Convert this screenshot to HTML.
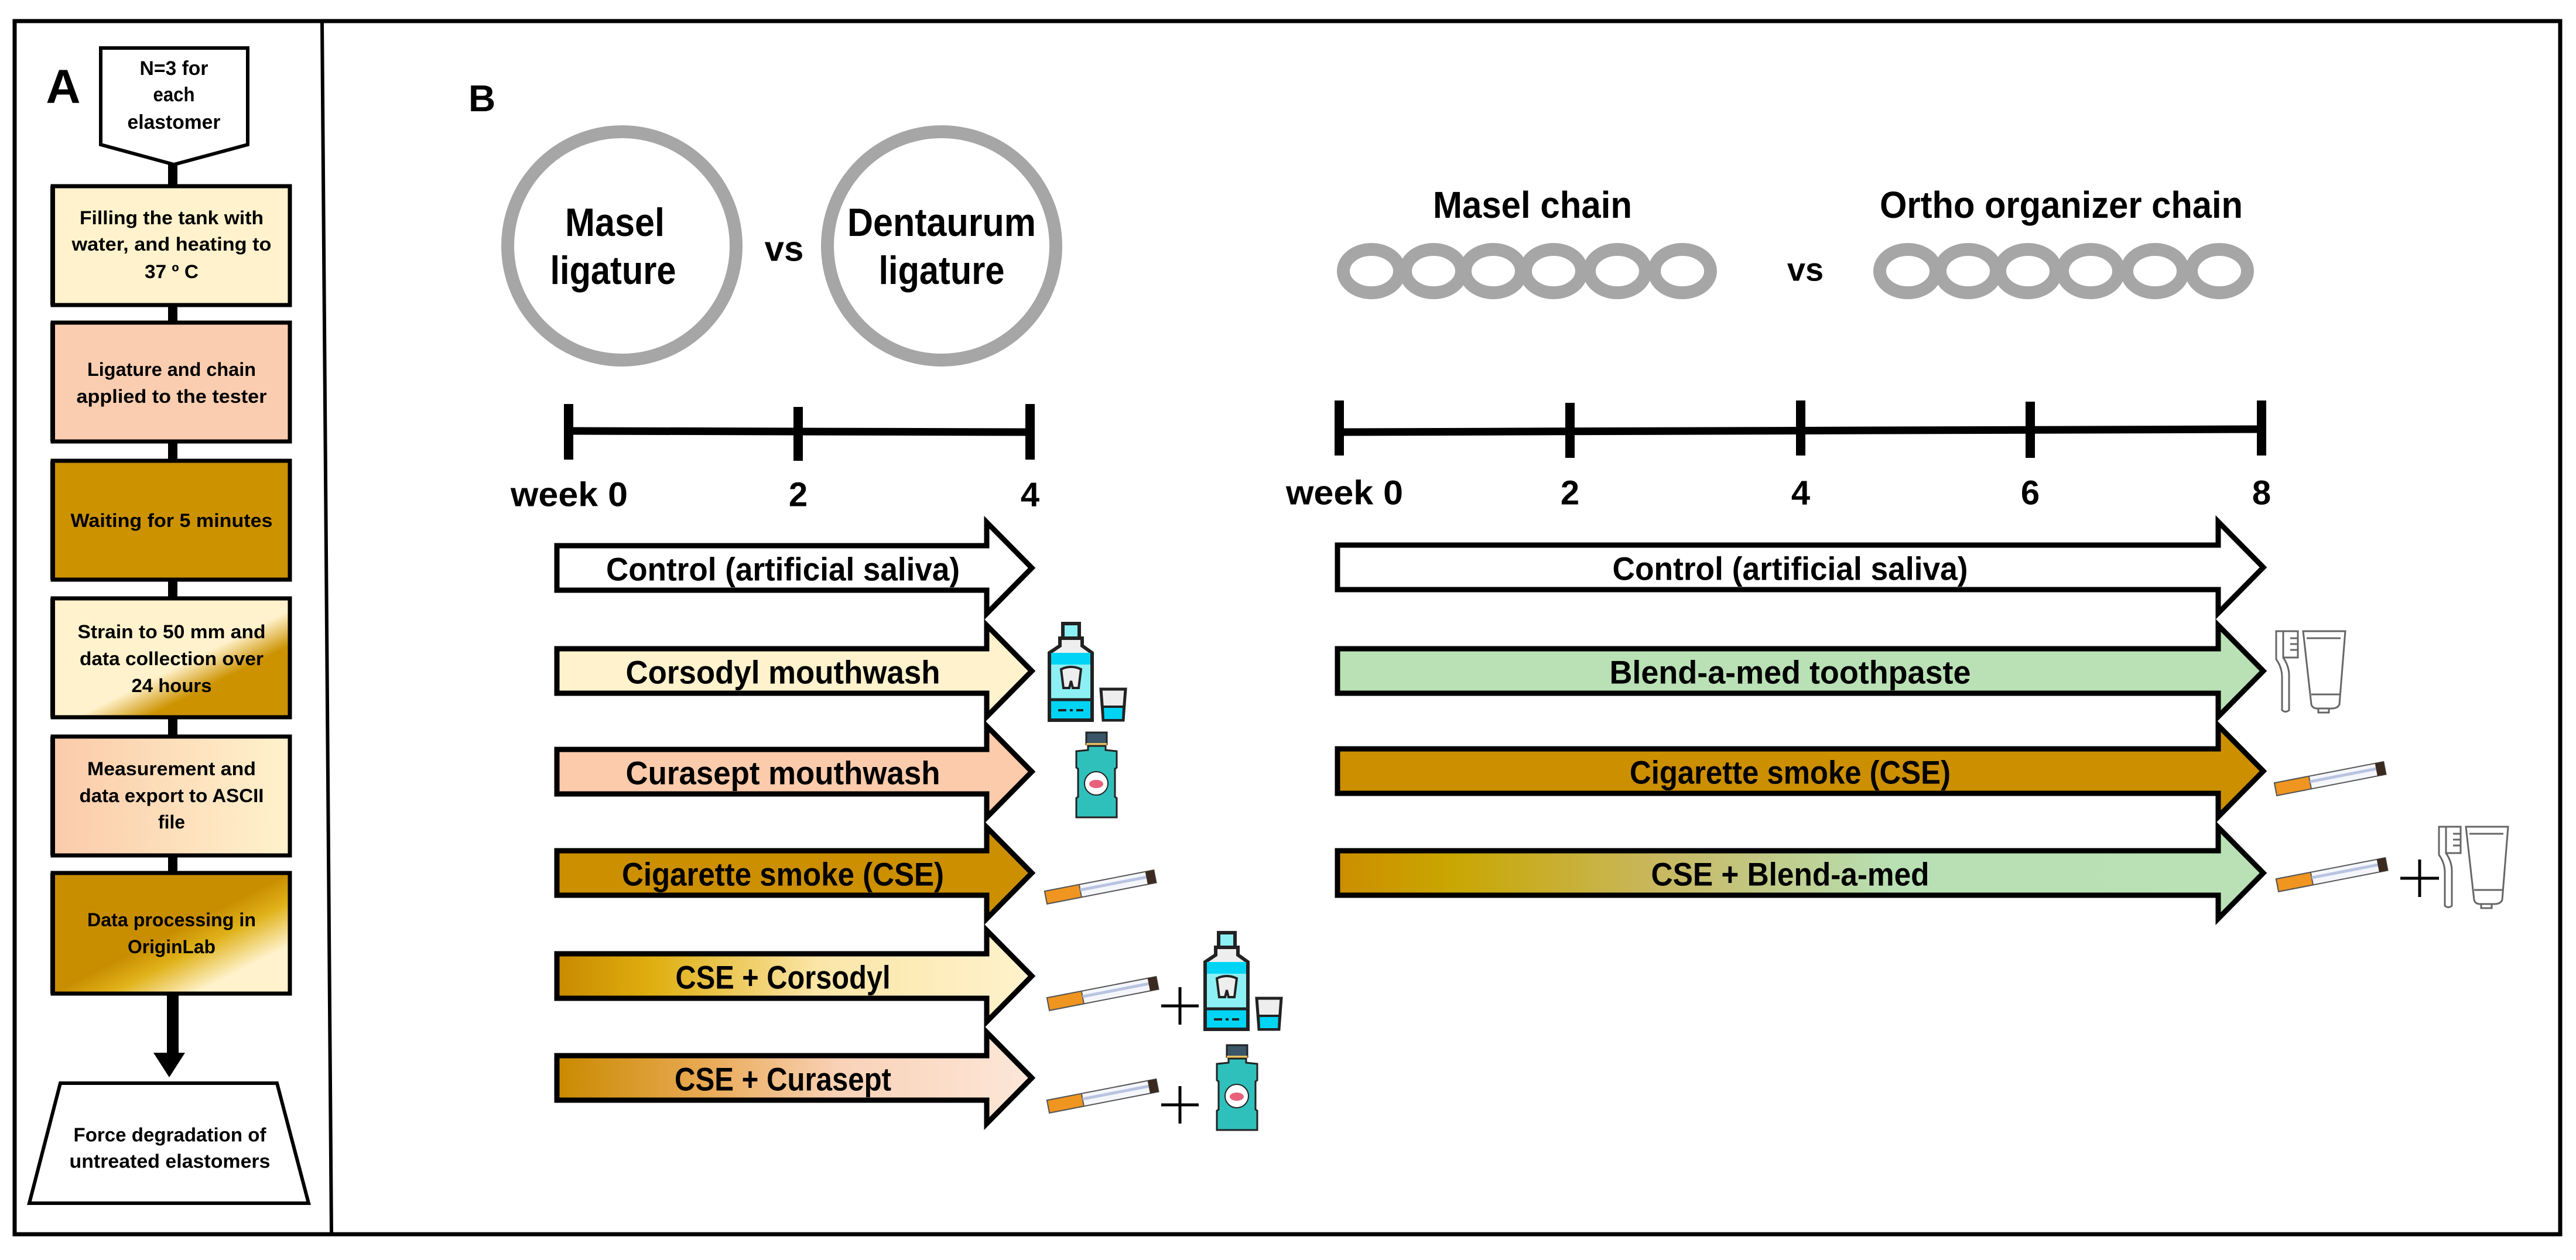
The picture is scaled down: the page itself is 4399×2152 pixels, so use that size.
<!DOCTYPE html>
<html><head><meta charset="utf-8"><style>
html,body{margin:0;padding:0;background:#fff;}
svg{display:block;}
text{font-family:"Liberation Sans",sans-serif;font-weight:bold;fill:#000;}
</style></head><body>
<svg width="4399" height="2152" viewBox="0 0 4399 2152" xmlns="http://www.w3.org/2000/svg">
<defs>
<linearGradient id="g4" x1="0" y1="0" x2="1" y2="1"><stop offset="0.55" stop-color="#fff2cc"/><stop offset="0.7" stop-color="#cc9200"/></linearGradient>
<linearGradient id="g5" x1="0" y1="0" x2="1" y2="0"><stop offset="0" stop-color="#fbcbaa"/><stop offset="1" stop-color="#fff2cc"/></linearGradient>
<linearGradient id="g6" x1="0" y1="0" x2="1" y2="1"><stop offset="0.5" stop-color="#c98e00"/><stop offset="0.62" stop-color="#e0b21a"/><stop offset="0.8" stop-color="#fff2cc"/></linearGradient>
<linearGradient id="a5" x1="0" y1="0" x2="1" y2="0"><stop offset="0" stop-color="#c98a00"/><stop offset="0.2" stop-color="#dfae10"/><stop offset="0.55" stop-color="#fbe6a8"/><stop offset="1" stop-color="#fff2cc"/></linearGradient>
<linearGradient id="a6" x1="0" y1="0" x2="1" y2="0"><stop offset="0" stop-color="#c98a00"/><stop offset="0.3" stop-color="#e8a850"/><stop offset="0.6" stop-color="#f9d2b8"/><stop offset="1" stop-color="#fde7d8"/></linearGradient>
<linearGradient id="r4" x1="0" y1="0" x2="1" y2="0"><stop offset="0" stop-color="#cc8e00"/><stop offset="0.12" stop-color="#c9a600"/><stop offset="0.35" stop-color="#c8b860"/><stop offset="0.6" stop-color="#b8e0b4"/><stop offset="1" stop-color="#b9e1b5"/></linearGradient>
<g id="cig">
<rect x="0" y="-11" width="190" height="22" fill="#f4f6fb" stroke="#555" stroke-width="2"/>
<rect x="0" y="-11" width="60" height="22" fill="#ef9520" stroke="#555" stroke-width="2"/>
<rect x="60" y="-4" width="115" height="5" fill="#b8c4e0"/>
<rect x="175" y="-11" width="15" height="22" fill="#3a2a20"/>
</g>
<g id="bottle1">
<rect x="23" y="0" width="28" height="25" fill="#8cf0f4" stroke="#222" stroke-width="6"/>
<path d="M18 25 H56 V38 L73 50 V165 H0 V50 L18 38 Z" fill="#eee" stroke="#222" stroke-width="6"/>
<rect x="0" y="50" width="73" height="20" fill="#00d4f5"/>
<rect x="0" y="70" width="73" height="60" fill="#8cf0f4"/>
<rect x="0" y="130" width="73" height="35" fill="#00d4f5"/>
<path d="M0 50 V165 H73 V50" fill="none" stroke="#222" stroke-width="6"/>
<line x1="0" y1="130" x2="73" y2="130" stroke="#222" stroke-width="5"/>
<path d="M20 78 Q37 70 54 78 L50 110 L40 110 L37 98 L34 110 L24 110 Z" fill="#eee" stroke="#222" stroke-width="4"/>
<line x1="15" y1="148" x2="58" y2="148" stroke="#222" stroke-width="4" stroke-dasharray="14 6 5 6"/>
<path d="M88 112 H130 L126 165 H92 Z" fill="#eee" stroke="#222" stroke-width="5"/>
<path d="M91 142 H127 L126 165 H92 Z" fill="#00d4f5" stroke="#222" stroke-width="4"/>
</g>
<g id="bottle2">
<rect x="17" y="0" width="35" height="20" fill="#3a5668" stroke="#222" stroke-width="3"/>
<rect x="17" y="18" width="35" height="5" fill="#e8c060"/>
<path d="M20 23 H50 V30 L69 32 V60 L66 62 V110 L69 112 V145 H0 V112 L3 110 V62 L0 60 V32 L20 30 Z" fill="#2fc0bc" stroke="#222" stroke-width="3"/>
<circle cx="34" cy="87" r="20" fill="#fff" stroke="#222" stroke-width="2"/>
<ellipse cx="34" cy="88" rx="12" ry="7" fill="#e8607a"/>
</g>
<g id="tb" fill="none" stroke="#666" stroke-width="3">
<path d="M0 0 H12 V45 Q22 60 22 75 V135 Q16 140 10 135 V78 Q10 62 0 48 Z"/>
<rect x="12" y="0" width="25" height="45"/>
<line x1="24" y1="12" x2="37" y2="12"/><line x1="24" y1="22" x2="37" y2="22"/><line x1="24" y1="32" x2="37" y2="32"/>
<path d="M46 0 H118 L108 125 Q105 132 95 132 H70 Q62 132 60 125 Z"/>
<line x1="52" y1="12" x2="110" y2="12"/>
<line x1="60" y1="108" x2="109" y2="108"/>
<rect x="72" y="132" width="18" height="7"/>
</g>
</defs>

<!-- outer frame -->
<rect x="25" y="36" width="4347" height="2072" fill="none" stroke="#000" stroke-width="7"/>
<line x1="550" y1="36" x2="566" y2="2108" stroke="#000" stroke-width="6"/>

<!-- Panel A -->
<text x="108" y="176" font-size="82" text-anchor="middle">A</text>
<path d="M172 82 H423 V247 L297 281 L172 247 Z" fill="#fff" stroke="#000" stroke-width="6"/>
<g font-size="34" text-anchor="middle" dominant-baseline="central">
<text x="297" y="117" textLength="117" lengthAdjust="spacingAndGlyphs">N=3 for</text>
<text x="297" y="162" textLength="71" lengthAdjust="spacingAndGlyphs">each</text>
<text x="297" y="209" textLength="159" lengthAdjust="spacingAndGlyphs">elastomer</text>
</g>
<g stroke="#000" stroke-width="16">
<line x1="295" y1="281" x2="295" y2="316"/><line x1="295" y1="522" x2="295" y2="549"/><line x1="295" y1="755" x2="295" y2="785"/><line x1="295" y1="991" x2="295" y2="1020"/><line x1="295" y1="1226" x2="295" y2="1256"/><line x1="295" y1="1462" x2="295" y2="1489"/>
</g>
<g stroke="#000" stroke-width="7">
<rect x="90" y="318" width="405" height="203" fill="#fff2cc"/>
<rect x="90" y="551" width="405" height="203" fill="#fbcdb0"/>
<rect x="90" y="787" width="405" height="203" fill="#cc9200"/>
<rect x="90" y="1022" width="405" height="203" fill="url(#g4)"/>
<rect x="90" y="1258" width="405" height="203" fill="url(#g5)"/>
<rect x="90" y="1491" width="405" height="206" fill="url(#g6)"/>
</g>
<g fill="#000"><rect x="86" y="318" width="8" height="203"/><rect x="86" y="551" width="8" height="203"/><rect x="86" y="787" width="8" height="203"/><rect x="86" y="1022" width="8" height="203"/><rect x="86" y="1258" width="8" height="203"/><rect x="86" y="1491" width="8" height="206"/></g>
<g font-size="32" text-anchor="middle" dominant-baseline="central">
<text x="293" y="372" textLength="314" lengthAdjust="spacingAndGlyphs">Filling the tank with</text>
<text x="293" y="417" textLength="341" lengthAdjust="spacingAndGlyphs">water, and heating to</text>
<text x="293" y="464" textLength="92" lengthAdjust="spacingAndGlyphs">37 º C</text>
<text x="293" y="631" textLength="288" lengthAdjust="spacingAndGlyphs">Ligature and chain</text>
<text x="293" y="677" textLength="325" lengthAdjust="spacingAndGlyphs">applied to the tester</text>
<text x="293" y="889" textLength="345" lengthAdjust="spacingAndGlyphs">Waiting for 5 minutes</text>
<text x="293" y="1079" textLength="321" lengthAdjust="spacingAndGlyphs">Strain to 50 mm and</text>
<text x="293" y="1125" textLength="314" lengthAdjust="spacingAndGlyphs">data collection over</text>
<text x="293" y="1171" textLength="137" lengthAdjust="spacingAndGlyphs">24 hours</text>
<text x="293" y="1313" textLength="288" lengthAdjust="spacingAndGlyphs">Measurement and</text>
<text x="293" y="1359" textLength="315" lengthAdjust="spacingAndGlyphs">data export to ASCII</text>
<text x="293" y="1404" textLength="46" lengthAdjust="spacingAndGlyphs">file</text>
<text x="293" y="1571" textLength="288" lengthAdjust="spacingAndGlyphs">Data processing in</text>
<text x="293" y="1617" textLength="150" lengthAdjust="spacingAndGlyphs">OriginLab</text>
</g>
<rect x="285" y="1697" width="20" height="103" fill="#000"/>
<path d="M262 1798 H316 L289 1840 Z" fill="#000"/>
<path d="M103 1850 H473 L527 2055 H50 Z" fill="#fff" stroke="#000" stroke-width="6"/>
<g font-size="33" text-anchor="middle" dominant-baseline="central">
<text x="290" y="1938" textLength="329" lengthAdjust="spacingAndGlyphs">Force degradation of</text>
<text x="290" y="1983" textLength="343" lengthAdjust="spacingAndGlyphs">untreated elastomers</text>
</g>

<!-- Panel B -->
<text x="800" y="190" font-size="64">B</text>
<circle cx="1062" cy="420" r="195" fill="none" stroke="#a6a6a6" stroke-width="22"/>
<circle cx="1608" cy="420" r="195" fill="none" stroke="#a6a6a6" stroke-width="22"/>
<g font-size="68" text-anchor="middle" dominant-baseline="central">
<text x="1050" y="380" textLength="170" lengthAdjust="spacingAndGlyphs">Masel</text>
<text x="1047" y="462" textLength="215" lengthAdjust="spacingAndGlyphs">ligature</text>
<text x="1608" y="380" textLength="322" lengthAdjust="spacingAndGlyphs">Dentaurum</text>
<text x="1608" y="462" textLength="215" lengthAdjust="spacingAndGlyphs">ligature</text>
<text x="1339" y="425" font-size="60">vs</text>
</g>
<!-- left timeline -->
<g stroke="#000">
<line x1="971" y1="736" x2="1759" y2="738" stroke-width="13"/>
<line x1="971" y1="690" x2="971" y2="785" stroke-width="16"/>
<line x1="1363" y1="695" x2="1363" y2="787" stroke-width="16"/>
<line x1="1759" y1="690" x2="1759" y2="785" stroke-width="16"/>
</g>
<g font-size="58" text-anchor="middle" dominant-baseline="central">
<text x="972" y="845" textLength="200" lengthAdjust="spacingAndGlyphs">week 0</text>
<text x="1363" y="845">2</text>
<text x="1759" y="845">4</text>
</g>
<!-- right chains -->
<g fill="none" stroke="#a6a6a6" stroke-width="22">
<ellipse cx="2342" cy="463" rx="48" ry="37"/><ellipse cx="2448" cy="463" rx="48" ry="37"/><ellipse cx="2550" cy="463" rx="48" ry="37"/><ellipse cx="2653" cy="463" rx="48" ry="37"/><ellipse cx="2762" cy="463" rx="48" ry="37"/><ellipse cx="2873" cy="463" rx="48" ry="37"/>
<ellipse cx="3258" cy="463" rx="48" ry="37"/><ellipse cx="3361" cy="463" rx="48" ry="37"/><ellipse cx="3463" cy="463" rx="48" ry="37"/><ellipse cx="3570" cy="463" rx="48" ry="37"/><ellipse cx="3680" cy="463" rx="48" ry="37"/><ellipse cx="3790" cy="463" rx="48" ry="37"/>
</g>
<g font-size="64" text-anchor="middle" dominant-baseline="central">
<text x="2617" y="350" textLength="340" lengthAdjust="spacingAndGlyphs">Masel chain</text>
<text x="3520" y="350" textLength="620" lengthAdjust="spacingAndGlyphs">Ortho organizer chain</text>
<text x="3083" y="460" font-size="56">vs</text>
</g>
<!-- right timeline -->
<g stroke="#000">
<line x1="2287" y1="738" x2="3862" y2="733" stroke-width="13"/>
<line x1="2287" y1="684" x2="2287" y2="778" stroke-width="16"/>
<line x1="2681" y1="688" x2="2681" y2="782" stroke-width="16"/>
<line x1="3075" y1="684" x2="3075" y2="778" stroke-width="16"/>
<line x1="3467" y1="686" x2="3467" y2="782" stroke-width="16"/>
<line x1="3862" y1="684" x2="3862" y2="778" stroke-width="16"/>
</g>
<g font-size="58" text-anchor="middle" dominant-baseline="central">
<text x="2296" y="842" textLength="200" lengthAdjust="spacingAndGlyphs">week 0</text>
<text x="2681" y="842">2</text>
<text x="3075" y="842">4</text>
<text x="3467" y="842">6</text>
<text x="3862" y="842">8</text>
</g>

<!-- left arrows -->
<g stroke="#000" stroke-width="9" stroke-linejoin="miter">
<path d="M951 932 H1685 V892 L1762 970 L1685 1048 V1008 H951 Z" fill="#fff"/>
<path d="M951 1108 H1685 V1068 L1762 1146 L1685 1224 V1184 H951 Z" fill="#fff2cc"/>
<path d="M951 1280 H1685 V1240 L1762 1318 L1685 1396 V1356 H951 Z" fill="#fccbac"/>
<path d="M951 1453 H1685 V1413 L1762 1491 L1685 1569 V1529 H951 Z" fill="#cc8f00"/>
<path d="M951 1629 H1685 V1589 L1762 1667 L1685 1745 V1705 H951 Z" fill="url(#a5)"/>
<path d="M951 1803 H1685 V1763 L1762 1841 L1685 1919 V1879 H951 Z" fill="url(#a6)"/>
</g>
<g font-size="56" text-anchor="middle" dominant-baseline="central">
<text x="1337" y="972" textLength="604" lengthAdjust="spacingAndGlyphs">Control (artificial saliva)</text>
<text x="1337" y="1148" textLength="537" lengthAdjust="spacingAndGlyphs">Corsodyl mouthwash</text>
<text x="1337" y="1320" textLength="537" lengthAdjust="spacingAndGlyphs">Curasept mouthwash</text>
<text x="1337" y="1493" textLength="550" lengthAdjust="spacingAndGlyphs">Cigarette smoke (CSE)</text>
<text x="1337" y="1669" textLength="367" lengthAdjust="spacingAndGlyphs">CSE + Corsodyl</text>
<text x="1337" y="1843" textLength="370" lengthAdjust="spacingAndGlyphs">CSE + Curasept</text>
</g>
<!-- right arrows -->
<g stroke="#000" stroke-width="9">
<path d="M2284 931 H3788 V891 L3865 969 L3788 1047 V1007 H2284 Z" fill="#fff"/>
<path d="M2284 1108 H3788 V1068 L3865 1146 L3788 1224 V1184 H2284 Z" fill="#b9e1b5"/>
<path d="M2284 1279 H3788 V1239 L3865 1317 L3788 1395 V1355 H2284 Z" fill="#cc8f00"/>
<path d="M2284 1453 H3788 V1413 L3865 1491 L3788 1569 V1529 H2284 Z" fill="url(#r4)"/>
</g>
<g font-size="56" text-anchor="middle" dominant-baseline="central">
<text x="3057" y="971" textLength="607" lengthAdjust="spacingAndGlyphs">Control (artificial saliva)</text>
<text x="3057" y="1148" textLength="617" lengthAdjust="spacingAndGlyphs">Blend-a-med toothpaste</text>
<text x="3057" y="1319" textLength="548" lengthAdjust="spacingAndGlyphs">Cigarette smoke (CSE)</text>
<text x="3057" y="1493" textLength="475" lengthAdjust="spacingAndGlyphs">CSE + Blend-a-med</text>
</g>

<!-- icons left -->
<use href="#bottle1" transform="translate(1792,1065)"/>
<use href="#bottle2" transform="translate(1838,1251)"/>
<use href="#cig" transform="translate(1786,1533) rotate(-11)"/>
<use href="#cig" transform="translate(1790,1715) rotate(-11)"/>
<use href="#bottle1" transform="translate(2058,1593)"/>
<use href="#cig" transform="translate(1790,1890) rotate(-11)"/>
<use href="#bottle2" transform="translate(2078,1785)"/>
<g stroke="#000" stroke-width="5">
<line x1="1983" y1="1718" x2="2047" y2="1718"/><line x1="2015" y1="1686" x2="2015" y2="1750"/>
<line x1="1983" y1="1887" x2="2047" y2="1887"/><line x1="2015" y1="1855" x2="2015" y2="1919"/>
<line x1="4099" y1="1500" x2="4165" y2="1500"/><line x1="4132" y1="1468" x2="4132" y2="1532"/>
</g>
<!-- icons right -->
<use href="#tb" transform="translate(3887,1078)"/>
<use href="#cig" transform="translate(3886,1348) rotate(-11)"/>
<use href="#cig" transform="translate(3889,1512) rotate(-11)"/>
<use href="#tb" transform="translate(4165,1412)"/>
</svg>
</body></html>
